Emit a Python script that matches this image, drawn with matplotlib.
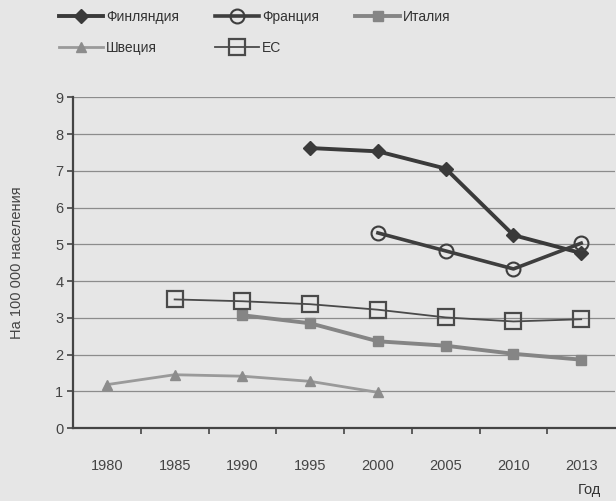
import matplotlib
matplotlib.use("Agg")
import matplotlib.pyplot as plt
import numpy as np

plt.rcParams['font.family'] = ['Liberation Sans', 'DejaVu Sans']

years = ['1980', '1985', '1990', '1995', '2000', '2005', '2010', '2013']
finland = [None, None, None, 7.62, 7.53, 7.06, 5.25, 4.76]
france = [None, None, None, None, 5.31, 4.82, 4.33, 5.03]
italy = [None, None, 3.07, 2.85, 2.36, 2.24, 2.02, 1.86]
sweden = [1.18, 1.45, 1.41, 1.27, 0.97, None, None, None]
eu = [None, 3.50, 3.45, 3.37, 3.22, 3.01, 2.90, 2.96]

def arr(v):
    return np.array([np.nan if x is None else x for x in v], dtype=float)

bg = '#e6e6e6'
fig = plt.figure(figsize=(6.16, 5.01), dpi=100, facecolor=bg)
ax = fig.add_axes([0.1185, 0.1457, 0.88, 0.660], facecolor=bg)

x = np.arange(len(years))
l_fin, = ax.plot(x, arr(finland), color='#3a3a3a', lw=2.8, marker='D', ms=7, mfc='#3a3a3a', mec='#3a3a3a', label='Финляндия')
l_fra, = ax.plot(x, arr(france), color='#3e3e3e', lw=2.6, marker='o', ms=10, mfc='none', mec='#3e3e3e', mew=1.5, label='Франция')
l_ita, = ax.plot(x, arr(italy), color='#858585', lw=2.8, marker='s', ms=7.5, mfc='#858585', mec='#858585', label='Италия')
l_swe, = ax.plot(x, arr(sweden), color='#9a9a9a', lw=2.0, marker='^', ms=7.5, mfc='#8c8c8c', mec='#8c8c8c', label='Швеция')
l_eu, = ax.plot(x, arr(eu), color='#4a4a4a', lw=1.3, marker='s', ms=11, mfc='none', mec='#4a4a4a', mew=1.6, label='ЕС')

ax.set_xlim(-0.5, 7.5)
ax.set_ylim(0, 9)
ax.set_yticks(range(0, 10))
ax.yaxis.grid(True, color='#8c8c8c', lw=0.9)
ax.set_axisbelow(True)

ax.set_xticks(x)
ax.set_xticklabels(years)
ax.set_xticks(np.arange(0.5, 7.5, 1), minor=True)
ax.tick_params(axis='x', which='major', length=0, pad=22, labelsize=10.5, labelcolor='#444444')
ax.tick_params(axis='x', which='minor', length=4, color='#444444', width=1.2)
ax.tick_params(axis='y', length=4, color='#444444', width=1.2, labelsize=10.5, labelcolor='#444444', pad=3)

for s in ['top', 'right']:
    ax.spines[s].set_visible(False)
for s in ['left', 'bottom']:
    ax.spines[s].set_color('#444444')
    ax.spines[s].set_linewidth(1.6)

ax.set_ylabel('На 100 000 населения', fontsize=10.5, color='#444444', labelpad=22)
fig.text(0.975, 0.008, 'Год', fontsize=10.5, color='#333333', ha='right', va='bottom')

handles = [l_fin, l_swe, l_fra, l_eu, l_ita]
fig.legend(handles=handles, labels=[h.get_label() for h in handles], ncol=3,
           loc='upper left', bbox_to_anchor=(0.075, 1.005), frameon=False,
           fontsize=10, handlelength=3.2, columnspacing=2.6, labelspacing=1.25,
           handletextpad=0.2, labelcolor='#333333')

fig.savefig('out.png', dpi=100, facecolor=bg)
